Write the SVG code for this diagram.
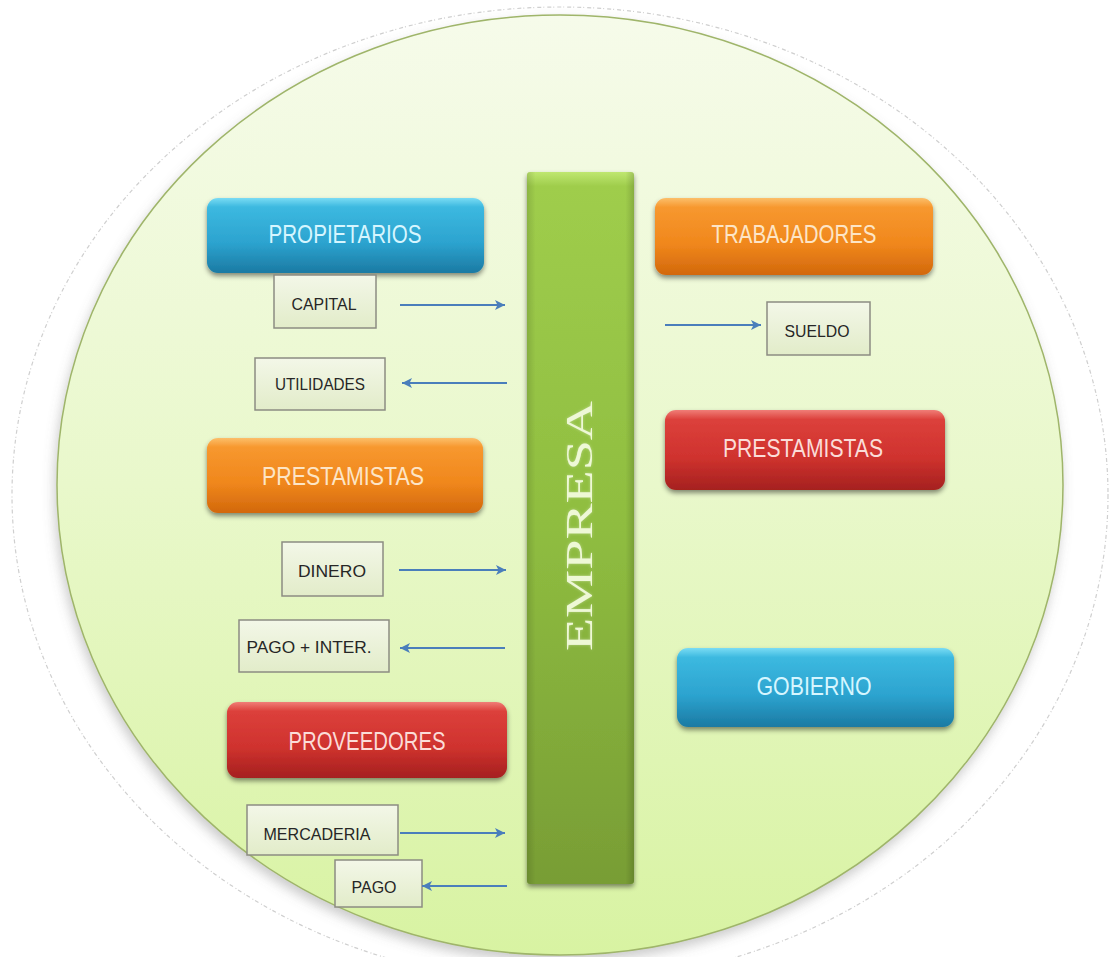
<svg xmlns="http://www.w3.org/2000/svg" width="1110" height="957" viewBox="0 0 1110 957">
  <defs>
    <linearGradient id="bgFill" x1="0" y1="0" x2="0" y2="1">
      <stop offset="0" stop-color="#f6fbea"/>
      <stop offset="0.5" stop-color="#e9f8cb"/>
      <stop offset="1" stop-color="#d8f3a2"/>
    </linearGradient>
    <linearGradient id="barFill" x1="0" y1="0" x2="0" y2="1">
      <stop offset="0" stop-color="#bfe770"/>
      <stop offset="0.02" stop-color="#9fcd4c"/>
      <stop offset="0.5" stop-color="#8fbd40"/>
      <stop offset="1" stop-color="#789d35"/>
    </linearGradient>
    <linearGradient id="barSide" x1="0" y1="0" x2="1" y2="0">
      <stop offset="0" stop-color="#000" stop-opacity="0.12"/>
      <stop offset="0.08" stop-color="#000" stop-opacity="0"/>
      <stop offset="0.92" stop-color="#000" stop-opacity="0"/>
      <stop offset="1" stop-color="#000" stop-opacity="0.15"/>
    </linearGradient>
    <linearGradient id="blueFill" x1="0" y1="0" x2="0" y2="1">
      <stop offset="0" stop-color="#7adcf4"/>
      <stop offset="0.12" stop-color="#3cb9e0"/>
      <stop offset="0.6" stop-color="#2ca3cf"/>
      <stop offset="1" stop-color="#1b7aa3"/>
    </linearGradient>
    <linearGradient id="orangeFill" x1="0" y1="0" x2="0" y2="1">
      <stop offset="0" stop-color="#fcbf6a"/>
      <stop offset="0.12" stop-color="#f7982f"/>
      <stop offset="0.6" stop-color="#f0871c"/>
      <stop offset="1" stop-color="#d2680c"/>
    </linearGradient>
    <linearGradient id="redFill" x1="0" y1="0" x2="0" y2="1">
      <stop offset="0" stop-color="#f07d77"/>
      <stop offset="0.12" stop-color="#dc403b"/>
      <stop offset="0.6" stop-color="#cf322e"/>
      <stop offset="1" stop-color="#a5211f"/>
    </linearGradient>
    <linearGradient id="tagFill" x1="0" y1="0" x2="0" y2="1">
      <stop offset="0" stop-color="#f3f7e8"/>
      <stop offset="1" stop-color="#e2ecc9"/>
    </linearGradient>
    <filter id="shadow" x="-10%" y="-20%" width="120%" height="150%">
      <feDropShadow dx="0" dy="3" stdDeviation="2.5" flood-color="#000" flood-opacity="0.45"/>
    </filter>
    <filter id="softShadow" x="-5%" y="-5%" width="110%" height="115%">
      <feDropShadow dx="-2" dy="6" stdDeviation="6" flood-color="#6b6b6b" flood-opacity="0.35"/>
    </filter>
    <filter id="glow" x="-10%" y="-30%" width="120%" height="160%">
      <feGaussianBlur in="SourceAlpha" stdDeviation="1.5" result="b"/>
      <feFlood flood-color="#ffffff" flood-opacity="0.35"/>
      <feComposite in2="b" operator="in" result="g"/>
      <feMerge><feMergeNode in="g"/><feMergeNode in="SourceGraphic"/></feMerge>
    </filter>
    <marker id="arrow" viewBox="0 0 10 10" refX="10" refY="5" markerWidth="10" markerHeight="10" markerUnits="userSpaceOnUse" orient="auto">
      <path d="M0,0 L10,5 L0,10 L2.5,5 z" fill="#4a7ebb"/>
    </marker>
    <style>
      .big { font-family: "Liberation Sans", Arial, sans-serif; font-size: 26px; text-anchor: middle; }
      .small { font-family: "Liberation Sans", Arial, sans-serif; font-size: 17px; fill: #262626; text-anchor: middle; }
      .tag { fill: url(#tagFill); stroke: #8c8c82; stroke-width: 1.5; }
      .flow { stroke: #4a7ebb; stroke-width: 2; fill: none; marker-end: url(#arrow); }
    </style>
  </defs>

  <rect width="1110" height="957" fill="#ffffff"/>

  <!-- backdrop: sketched halo and green disc -->
  <g id="backdrop">
    <ellipse cx="560" cy="495" rx="548" ry="488" fill="#ffffff" stroke="#cfcfcf" stroke-width="1.2" stroke-dasharray="4 2 1 3"/>
    <ellipse cx="560" cy="485" rx="503" ry="470" fill="url(#bgFill)" stroke="#9fb56a" stroke-width="1.5" filter="url(#softShadow)"/>
  </g>

  <!-- central company bar -->
  <g id="empresa">
    <rect x="527" y="172" width="107" height="712" rx="3" fill="url(#barFill)" filter="url(#shadow)"/>
    <rect x="527" y="172" width="107" height="712" rx="3" fill="url(#barSide)"/>
    <text transform="translate(592,526) rotate(-90)" font-family="'Liberation Serif', 'Times New Roman', serif" font-size="38" fill="#eef8d6" text-anchor="middle" textLength="250" lengthAdjust="spacingAndGlyphs" filter="url(#glow)">EMPRESA</text>
  </g>

  <!-- coloured stakeholder nodes -->
  <g id="propietarios">
    <rect x="207" y="198" width="277" height="75" rx="11" fill="url(#blueFill)" filter="url(#shadow)"/>
    <text class="big" x="345" y="243" fill="#d6f6ff" textLength="153" lengthAdjust="spacingAndGlyphs">PROPIETARIOS</text>
  </g>
  <g id="trabajadores">
    <rect x="655" y="198" width="278" height="77" rx="11" fill="url(#orangeFill)" filter="url(#shadow)"/>
    <text class="big" x="794" y="243" fill="#fde5c6" textLength="165" lengthAdjust="spacingAndGlyphs">TRABAJADORES</text>
  </g>
  <g id="prestamistas-izq">
    <rect x="207" y="438" width="276" height="75" rx="11" fill="url(#orangeFill)" filter="url(#shadow)"/>
    <text class="big" x="343" y="485" fill="#fde5c6" textLength="162" lengthAdjust="spacingAndGlyphs">PRESTAMISTAS</text>
  </g>
  <g id="proveedores">
    <rect x="227" y="702" width="280" height="76" rx="11" fill="url(#redFill)" filter="url(#shadow)"/>
    <text class="big" x="367" y="750" fill="#fbdcd8" textLength="157" lengthAdjust="spacingAndGlyphs">PROVEEDORES</text>
  </g>
  <g id="prestamistas-der">
    <rect x="665" y="410" width="280" height="80" rx="11" fill="url(#redFill)" filter="url(#shadow)"/>
    <text class="big" x="803" y="457" fill="#fbdcd8" textLength="160" lengthAdjust="spacingAndGlyphs">PRESTAMISTAS</text>
  </g>
  <g id="gobierno">
    <rect x="677" y="648" width="277" height="79" rx="11" fill="url(#blueFill)" filter="url(#shadow)"/>
    <text class="big" x="814" y="695" fill="#d6f6ff" textLength="115" lengthAdjust="spacingAndGlyphs">GOBIERNO</text>
  </g>

  <!-- flow labels -->
  <g id="capital">
    <rect class="tag" x="274" y="275" width="102" height="53"/>
    <text class="small" x="324" y="310" textLength="65" lengthAdjust="spacingAndGlyphs">CAPITAL</text>
  </g>
  <g id="utilidades">
    <rect class="tag" x="255" y="358" width="130" height="52"/>
    <text class="small" x="320" y="390" textLength="90" lengthAdjust="spacingAndGlyphs">UTILIDADES</text>
  </g>
  <g id="sueldo">
    <rect class="tag" x="767" y="302" width="103" height="53"/>
    <text class="small" x="817" y="337" textLength="65" lengthAdjust="spacingAndGlyphs">SUELDO</text>
  </g>
  <g id="dinero">
    <rect class="tag" x="282" y="542" width="101" height="54"/>
    <text class="small" x="332" y="577" textLength="68" lengthAdjust="spacingAndGlyphs">DINERO</text>
  </g>
  <g id="pago-inter">
    <rect class="tag" x="239" y="620" width="150" height="52"/>
    <text class="small" x="309" y="653" textLength="125" lengthAdjust="spacingAndGlyphs">PAGO + INTER.</text>
  </g>
  <g id="mercaderia">
    <rect class="tag" x="247" y="805" width="151" height="50"/>
    <text class="small" x="317" y="840" textLength="107" lengthAdjust="spacingAndGlyphs">MERCADERIA</text>
  </g>
  <g id="pago">
    <rect class="tag" x="335" y="860" width="87" height="47"/>
    <text class="small" x="374" y="893" textLength="45" lengthAdjust="spacingAndGlyphs">PAGO</text>
  </g>

  <!-- connectors -->
  <g id="connectors">
    <line class="flow" x1="400" y1="305" x2="505" y2="305"/>
    <line class="flow" x1="507" y1="383" x2="402" y2="383"/>
    <line class="flow" x1="665" y1="325" x2="761" y2="325"/>
    <line class="flow" x1="399" y1="570" x2="506" y2="570"/>
    <line class="flow" x1="505" y1="648" x2="400" y2="648"/>
    <line class="flow" x1="400" y1="833" x2="505" y2="833"/>
    <line class="flow" x1="507" y1="886" x2="422" y2="886"/>
  </g>
</svg>
